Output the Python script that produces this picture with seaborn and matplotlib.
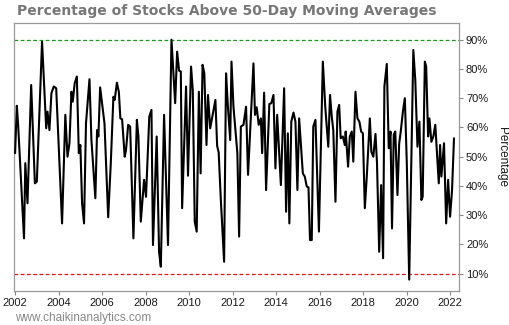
import matplotlib
matplotlib.use("Agg")
import matplotlib.pyplot as plt
import seaborn as sns
import pandas as pd

# Decimal years and percentage of stocks above their 50-day moving average
years = [2002.00, 2002.08, 2002.14, 2002.41, 2002.47, 2002.57, 2002.74, 2002.91, 2003.00, 2003.24,
         2003.43, 2003.49, 2003.58, 2003.67, 2003.78, 2003.89, 2004.16, 2004.31, 2004.41, 2004.50,
         2004.59, 2004.65, 2004.74, 2004.84, 2004.93, 2005.00, 2005.08, 2005.17, 2005.26, 2005.42,
         2005.51, 2005.69, 2005.77, 2005.83, 2005.91, 2006.00, 2006.11, 2006.28, 2006.40, 2006.52,
         2006.58, 2006.68, 2006.77, 2006.84, 2006.92, 2007.04, 2007.10, 2007.20, 2007.29, 2007.44,
         2007.60, 2007.67, 2007.78, 2007.93, 2008.02, 2008.17, 2008.27, 2008.34, 2008.51, 2008.62,
         2008.70, 2008.85, 2009.03, 2009.19, 2009.36, 2009.45, 2009.54, 2009.62, 2009.68, 2009.86,
         2009.91, 2009.95, 2010.09, 2010.17, 2010.26, 2010.35, 2010.45, 2010.53, 2010.62, 2010.70,
         2010.80, 2010.87, 2010.97, 2011.21, 2011.29, 2011.36, 2011.46, 2011.61, 2011.70, 2011.78,
         2011.89, 2011.95, 2012.04, 2012.22, 2012.30, 2012.38, 2012.50, 2012.62, 2012.71, 2012.96,
         2013.03, 2013.11, 2013.20, 2013.30, 2013.36, 2013.45, 2013.54, 2013.69, 2013.78, 2013.88,
         2013.97, 2014.05, 2014.22, 2014.37, 2014.46, 2014.54, 2014.61, 2014.70, 2014.80, 2014.89,
         2014.98, 2015.06, 2015.23, 2015.32, 2015.41, 2015.49, 2015.56, 2015.64, 2015.71, 2015.81,
         2015.97, 2016.15, 2016.26, 2016.40, 2016.48, 2016.56, 2016.63, 2016.73, 2016.82, 2016.90,
         2016.97, 2017.07, 2017.16, 2017.20, 2017.31, 2017.39, 2017.48, 2017.55, 2017.65, 2017.74,
         2017.83, 2017.91, 2017.99, 2018.08, 2018.17, 2018.31, 2018.38, 2018.47, 2018.57, 2018.64,
         2018.74, 2018.83, 2018.92, 2018.98, 2019.09, 2019.18, 2019.26, 2019.33, 2019.41, 2019.48,
         2019.58, 2019.66, 2019.73, 2019.83, 2019.92, 2020.01, 2020.12, 2020.19, 2020.31, 2020.40,
         2020.50, 2020.59, 2020.68, 2020.74, 2020.84, 2020.90, 2020.99, 2021.05, 2021.14, 2021.23,
         2021.32, 2021.48, 2021.54, 2021.60, 2021.72, 2021.82, 2021.91, 2022.00, 2022.09, 2022.18]
percent = [51.2, 67.4, 60.9, 22.1, 47.8, 34.1, 74.5, 40.9, 41.5, 89.3,
           59.7, 65.4, 59.1, 71.7, 74.0, 73.4, 27.2, 64.3, 50.0, 54.6,
           72.2, 68.8, 75.1, 77.4, 51.2, 54.0, 34.1, 27.2, 61.4, 76.5,
           55.7, 35.8, 59.1, 56.9, 73.7, 68.3, 61.4, 29.3, 47.8, 70.5,
           69.4, 75.3, 72.2, 63.1, 62.8, 50.0, 52.3, 60.9, 60.3, 22.1,
           62.6, 56.9, 27.8, 42.1, 36.3, 63.7, 66.0, 19.8, 56.9, 17.5,
           12.4, 64.3, 19.8, 90.0, 68.3, 85.9, 79.4, 79.1, 32.4, 74.0,
           58.0, 43.5, 80.8, 72.8, 27.8, 24.4, 72.2, 44.3, 81.4, 78.5,
           54.0, 71.1, 59.7, 69.4, 53.7, 51.5, 35.2, 14.1, 78.5, 67.7,
           55.7, 82.5, 67.1, 51.2, 22.7, 60.3, 60.9, 67.1, 43.8, 81.9,
           64.3, 66.9, 60.9, 63.1, 51.2, 71.9, 38.6, 68.0, 68.3, 71.1,
           46.0, 64.3, 40.3, 73.4, 31.2, 58.0, 27.2, 62.0, 65.1, 62.0,
           38.6, 63.1, 44.3, 43.2, 39.8, 39.5, 21.5, 21.5, 60.3, 62.6,
           24.4, 82.5, 67.1, 53.4, 71.1, 63.7, 59.1, 34.6, 65.4, 67.7,
           56.3, 56.9, 54.0, 58.6, 46.6, 56.9, 58.6, 48.3, 72.2, 63.1,
           62.0, 58.6, 58.0, 32.4, 43.2, 63.1, 51.7, 50.0, 57.8, 47.8,
           17.5, 40.3, 15.3, 74.0, 81.7, 52.9, 58.6, 25.5, 57.5, 58.6,
           36.9, 54.5, 58.5, 65.4, 70.0, 47.8, 8.0, 36.3, 86.5, 76.2,
           53.4, 62.0, 35.2, 36.3, 82.5, 80.8, 56.9, 63.1, 55.1, 56.9,
           60.9, 40.9, 54.0, 43.2, 54.6, 27.2, 42.1, 29.5, 38.6, 56.3]

x_ticks = [2002, 2004, 2006, 2008, 2010, 2012, 2014, 2016, 2018, 2020, 2022]
y_ticks = [10, 20, 30, 40, 50, 60, 70, 80, 90]
y_tick_labels = [f"{v}%" for v in y_ticks]
upper_level = 90
lower_level = 10

df = pd.DataFrame({"year": years, "percent": percent})

sns.set_style("white")
plt.rcParams["font.family"] = ["Liberation Sans", "DejaVu Sans"]

fig = plt.figure(figsize=(5.1, 3.25), dpi=100)
ax = fig.add_axes([14 / 510, 34 / 325, 445 / 510, 268 / 325])

ax.axhline(upper_level, color="#1a9a1a", lw=0.9, ls=(0, (3, 2)), zorder=1)
ax.axhline(lower_level, color="#ee1111", lw=0.9, ls=(0, (3, 2)), zorder=1)
sns.lineplot(data=df, x="year", y="percent", ax=ax, color="black", lw=1.5, zorder=3)

ax.set_xlim(2001.95, 2022.41)
ax.set_ylim(4.1, 95.7)

ax.set_xticks(x_ticks)
ax.set_xticklabels([str(t) for t in x_ticks])
ax.yaxis.tick_right()
ax.yaxis.set_label_position("right")
ax.set_yticks(y_ticks)
ax.set_yticklabels(y_tick_labels)

ax.tick_params(axis="both", which="major", length=3, width=0.8, color="#888888",
               labelsize=8, labelcolor="#1a1a1a", pad=2, direction="out")
ax.tick_params(axis="y", left=False, right=True)
ax.tick_params(axis="x", bottom=True)

for s in ax.spines.values():
    s.set_color("#999999")
    s.set_linewidth(0.9)

ax.set_xlabel("")
ax.set_ylabel("Percentage", rotation=270, labelpad=14, fontsize=8.5, color="#1a1a1a")

fig.text(17 / 510, 1 - 11 / 325, "Percentage of Stocks Above 50-Day Moving Averages",
         fontsize=10, fontweight="bold", color="#777777", family="DejaVu Sans",
         ha="left", va="center")
fig.text(15 / 510, 1 - 318 / 325, "www.chaikinanalytics.com",
         fontsize=8.5, color="#888888", ha="left", va="center")

fig.savefig("out.png", dpi=100, facecolor="white")
